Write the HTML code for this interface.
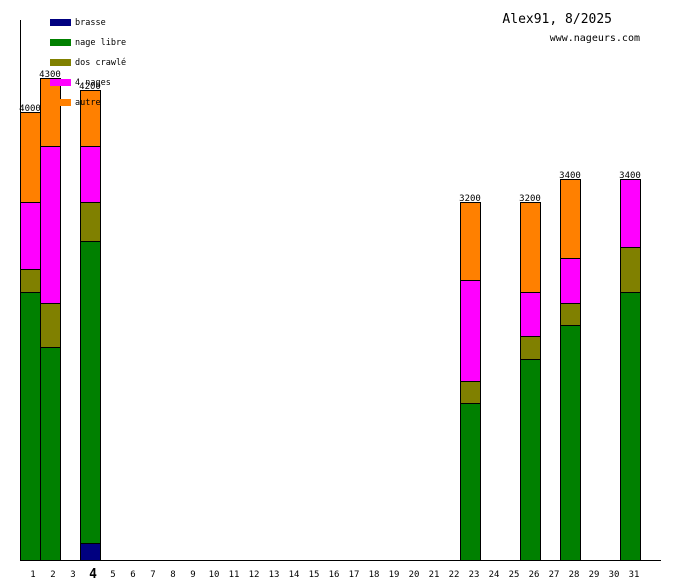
<!DOCTYPE html>
<html><head><meta charset="utf-8"><style>
html,body{margin:0;padding:0;background:#fff;}
svg text{font-family:"DejaVu Sans Mono","Liberation Mono",monospace;}
</style></head><body>
<svg width="680" height="580" xmlns="http://www.w3.org/2000/svg" shape-rendering="crispEdges">
<rect width="680" height="580" fill="#fff"/>
<g stroke="#000" stroke-width="1">
<!-- day1 x=20 -->
<rect x="20.5" y="292.5" width="20" height="268" fill="#008000"/>
<rect x="20.5" y="269.5" width="20" height="23" fill="#808000"/>
<rect x="20.5" y="202.5" width="20" height="67" fill="#ff00ff"/>
<rect x="20.5" y="112.5" width="20" height="90" fill="#ff8000"/>
<!-- day2 -->
<rect x="40.5" y="347.5" width="20" height="213" fill="#008000"/>
<rect x="40.5" y="303.5" width="20" height="44" fill="#808000"/>
<rect x="40.5" y="146.5" width="20" height="157" fill="#ff00ff"/>
<rect x="40.5" y="78.5" width="20" height="68" fill="#ff8000"/>
<!-- day4 -->
<rect x="80.5" y="543.5" width="20" height="17" fill="#000080"/>
<rect x="80.5" y="241.5" width="20" height="302" fill="#008000"/>
<rect x="80.5" y="202.5" width="20" height="39" fill="#808000"/>
<rect x="80.5" y="146.5" width="20" height="56" fill="#ff00ff"/>
<rect x="80.5" y="90.5" width="20" height="56" fill="#ff8000"/>
<!-- day23 -->
<rect x="460.5" y="403.5" width="20" height="157" fill="#008000"/>
<rect x="460.5" y="381.5" width="20" height="22" fill="#808000"/>
<rect x="460.5" y="280.5" width="20" height="101" fill="#ff00ff"/>
<rect x="460.5" y="202.5" width="20" height="78" fill="#ff8000"/>
<!-- day26 -->
<rect x="520.5" y="359.5" width="20" height="201" fill="#008000"/>
<rect x="520.5" y="336.5" width="20" height="23" fill="#808000"/>
<rect x="520.5" y="292.5" width="20" height="44" fill="#ff00ff"/>
<rect x="520.5" y="202.5" width="20" height="90" fill="#ff8000"/>
<!-- day28 -->
<rect x="560.5" y="325.5" width="20" height="235" fill="#008000"/>
<rect x="560.5" y="303.5" width="20" height="22" fill="#808000"/>
<rect x="560.5" y="258.5" width="20" height="45" fill="#ff00ff"/>
<rect x="560.5" y="179.5" width="20" height="79" fill="#ff8000"/>
<!-- day31 -->
<rect x="620.5" y="292.5" width="20" height="268" fill="#008000"/>
<rect x="620.5" y="247.5" width="20" height="45" fill="#808000"/>
<rect x="620.5" y="179.5" width="20" height="68" fill="#ff00ff"/>
</g>
<line x1="20.5" y1="20" x2="20.5" y2="561" stroke="#000"/>
<line x1="20" y1="560.5" x2="661" y2="560.5" stroke="#000"/>
<g font-size="9" fill="#000" text-anchor="middle">
<text x="30" y="111">4000</text>
<text x="50" y="77">4300</text>
<text x="90" y="89">4200</text>
<text x="470" y="201">3200</text>
<text x="530" y="201">3200</text>
<text x="570" y="178">3400</text>
<text x="630" y="178">3400</text>
</g>
<g fill="#000" font-size="9" text-anchor="middle">
<text x="33" y="577">1</text><text x="53" y="577">2</text><text x="73" y="577">3</text>
<text x="93" y="578" font-size="13" font-weight="bold">4</text>
<text x="113" y="577">5</text><text x="133" y="577">6</text><text x="153" y="577">7</text><text x="173" y="577">8</text><text x="193" y="577">9</text>
<text x="214" y="577">10</text><text x="234" y="577">11</text><text x="254" y="577">12</text><text x="274" y="577">13</text><text x="294" y="577">14</text><text x="314" y="577">15</text><text x="334" y="577">16</text><text x="354" y="577">17</text><text x="374" y="577">18</text><text x="394" y="577">19</text><text x="414" y="577">20</text><text x="434" y="577">21</text><text x="454" y="577">22</text><text x="474" y="577">23</text><text x="494" y="577">24</text><text x="514" y="577">25</text><text x="534" y="577">26</text><text x="554" y="577">27</text><text x="574" y="577">28</text><text x="594" y="577">29</text><text x="614" y="577">30</text><text x="634" y="577">31</text>
</g>
<rect x="50" y="19" width="21" height="7" fill="#000080"/>
<rect x="50" y="39" width="21" height="7" fill="#008000"/>
<rect x="50" y="59" width="21" height="7" fill="#808000"/>
<rect x="50" y="79" width="21" height="7" fill="#ff00ff"/>
<rect x="50" y="99" width="21" height="7" fill="#ff8000"/>
<g font-size="8.5" fill="#000">
<text x="75" y="25">brasse</text>
<text x="75" y="45">nage libre</text>
<text x="75" y="65">dos crawlé</text>
<text x="75" y="85">4 nages</text>
<text x="75" y="105">autre</text>
</g>
<text x="612" y="23" font-size="13" text-anchor="end" fill="#000">Alex91, 8/2025</text>
<text x="640" y="41" font-size="10" text-anchor="end" fill="#000">www.nageurs.com</text>
</svg>
</body></html>
